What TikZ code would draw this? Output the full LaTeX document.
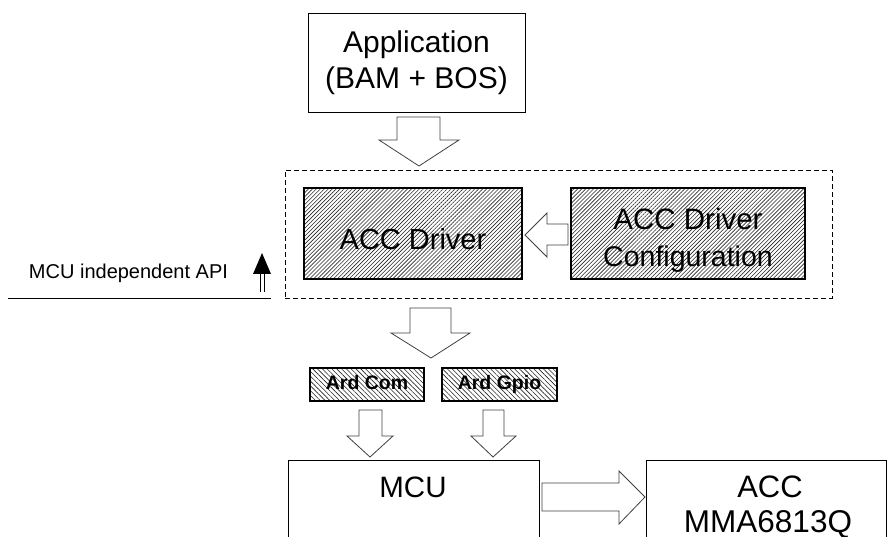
\documentclass[tikz,border=0pt]{standalone}
\usepackage{fontspec}
\setmainfont{Liberation Sans}
\usetikzlibrary{patterns.meta,calc}
\begin{document}
\begin{tikzpicture}[x=1pt,y=-1pt,
  box/.style={draw=black, line width=0.9pt, inner sep=0pt},
  hatchA/.style={box, line width=1.1pt, pattern={Lines[angle=45,distance=2.8pt,line width=0.6pt]}, pattern color=black!85},
  hatchB/.style={box, line width=1.1pt, pattern={Lines[angle=-45,distance=3.4pt,line width=0.6pt]}, pattern color=black!85},
  barrow/.style={draw=black!75, fill=white, line width=0.8pt, line join=miter},
  grpbox/.style={draw=black, line width=0.9pt, dash pattern=on 5pt off 3pt, inner sep=0pt},
  bigtxt/.style={font=\fontsize{30}{36}\selectfont, align=center, inner sep=0pt},
  ardtxt/.style={font=\bfseries\fontsize{19.5}{22}\selectfont, text height=14pt, text depth=4pt}
]
\useasboundingbox (0,0) rectangle (889,537);

% Application
\node[box, minimum width=217pt, minimum height=99pt, bigtxt] (app) at (416.5,62.5) {Application\\(BAM + BOS)};

% driver group
\node[grpbox, minimum width=547pt, minimum height=128pt] (grp) at (558.5,234) {};
\node[hatchA, minimum width=218pt, minimum height=91pt] (drv) at (413,233.5) {};
\node[font=\fontsize{29}{35}\selectfont, inner sep=0pt, anchor=base] (drvtext) at (413,250) {ACC Driver};
\node[hatchA, minimum width=234pt, minimum height=91pt] (cfg) at (688,233.5) {};
\node[font=\fontsize{29.5}{37}\selectfont, inner sep=0pt, anchor=base] (cfgtext1) at (688,229.5) {ACC Driver};
\node[font=\fontsize{28.5}{37}\selectfont, inner sep=0pt, anchor=base] (cfgtext2) at (688,266.5) {Configuration};

% API marker
\coordinate (apiL) at (8,298);
\coordinate (apiR) at (271,298);
\draw[line width=0.9pt] (apiL) -- (apiR);
\node[font=\fontsize{20}{24}\selectfont, inner sep=0pt, anchor=base] (api) at (128.5,279) {MCU independent API};
\coordinate (upB) at (262,292);
\coordinate (upT) at (262,253);
\draw[line width=0.8pt] ($(upB)+(-2,0)$) -- ($(upB)+(-2,-20)$);
\draw[line width=0.8pt] ($(upB)+(2,0)$) -- ($(upB)+(2,-20)$);
\fill ($(upT)+(-9,21)$) -- ($(upT)+(9,21)$) -- (upT) -- cycle;

% Ard boxes
\node[hatchB, minimum width=114pt, minimum height=33pt, ardtxt] (ardcom) at (367,384.5) {Ard Com};
\node[hatchB, minimum width=115pt, minimum height=33pt, ardtxt] (ardgpio) at (499.5,384.5) {Ard Gpio};

% MCU and ACC
\node[box, minimum width=251pt, minimum height=160pt, anchor=north] (mcu) at (413.5,460) {};
\node[font=\fontsize{29.5}{35}\selectfont, inner sep=0pt, anchor=base] (mcutext) at (413,497.5) {MCU};
\node[box, minimum width=240pt, minimum height=160pt, anchor=north] (acc) at (766,460) {};
\node[font=\fontsize{31}{36}\selectfont, inner sep=0pt, anchor=base] (acctext1) at (770,497) {ACC};
\node[font=\fontsize{31.5}{36}\selectfont, inner sep=0pt, anchor=base] (acctext2) at (768,532) {MMA6813Q};

% block arrows
\draw[barrow] (397,117) -- (440,117) -- (440,140) -- (459,140) -- (419,166) -- (379,140) -- (397,140) -- cycle;
\draw[barrow] (568,224) -- (547,224) -- (547,213) -- (525,235) -- (547,257) -- (547,245) -- (568,245) -- cycle;
\draw[barrow] (410,308) -- (451,308) -- (451,333) -- (470,333) -- (431,358) -- (391,333) -- (410,333) -- cycle;
\draw[barrow] (359,410) -- (382,410) -- (382,436) -- (393,436) -- (370,457) -- (347,436) -- (359,436) -- cycle;
\draw[barrow] (483,410) -- (504,410) -- (504,436) -- (516,436) -- (493,457) -- (471,436) -- (483,436) -- cycle;
\draw[barrow] (542,483) -- (619,483) -- (619,471) -- (645,497) -- (619,524) -- (619,511) -- (542,511) -- cycle;
\end{tikzpicture}
\end{document}
